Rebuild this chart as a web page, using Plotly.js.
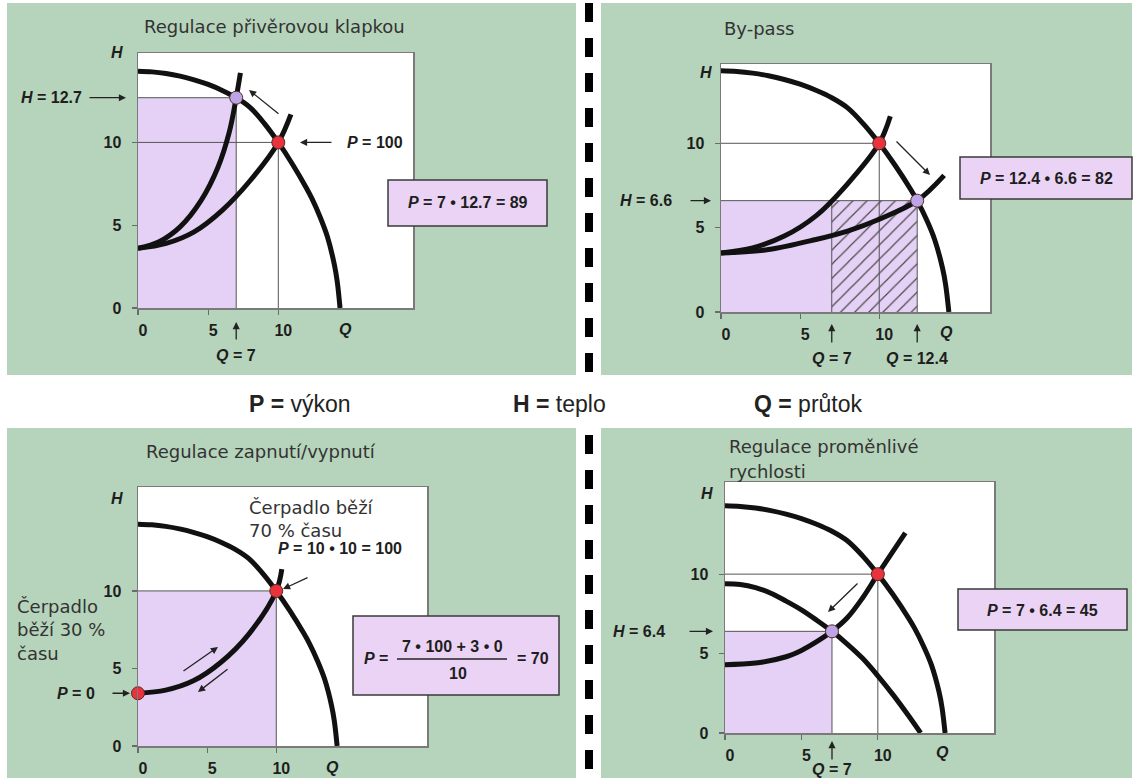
<!DOCTYPE html>
<html>
<head>
<meta charset="utf-8">
<script src="https://cdn.plot.ly/plotly-3.0.1.min.js"></script>
<style>
  html, body { margin: 0; padding: 0; background: #ffffff; }
  #chart { width: 1137px; height: 778px; }
</style>
</head>
<body>
<div id="chart"></div>
<script>
// ---------- data (Q = průtok, H = teplo) ----------
// full-speed pump characteristic, the same pump in all four diagrams
const pumpQ = [0, 1, 2, 3, 4, 5, 6, 7, 8, 9, 10, 11, 12, 12.4, 13, 13.5, 14, 14.2, 14.4];
const pumpH = [14.3, 14.26, 14.16, 14.0, 13.78, 13.5, 13.14, 12.7, 12.1, 11.15, 10.0, 8.7, 7.25, 6.6, 5.45, 4.3, 2.6, 1.6, 0];

// 1) throttling valve
const valveSysQ = [0, 2, 4, 6, 8, 10, 10.9];
const valveSysH = [3.6, 3.9, 4.6, 5.9, 7.7, 10.0, 11.7];
const valveThrQ = [0, 1.5, 3, 4.5, 5.7, 6.5, 7, 7.3];
const valveThrH = [3.6, 4.0, 4.9, 6.5, 8.5, 10.6, 12.7, 14.2];
const valveDesign = [10, 10];
const valvePoint = [7, 12.7];

// 2) by-pass
const bypassSysQ = [0, 2, 4, 6, 8, 10, 10.7];
const bypassSysH = [3.5, 3.8, 4.5, 5.7, 7.6, 10.0, 11.6];
const bypassOpenQ = [0, 3, 6, 8, 10, 12.4, 14.1];
const bypassOpenH = [3.5, 3.7, 4.3, 4.8, 5.5, 6.6, 8.1];
const bypassDesign = [10, 10];
const bypassPoint = [12.4, 6.6];
const bypassUsedQ = 7;

// 3) on/off
const onoffSysQ = [0, 2, 4, 6, 8, 10, 10.4];
const onoffSysH = [3.4, 3.6, 4.2, 5.4, 7.2, 10.0, 11.4];
const onoffRun = [10, 10];
const onoffIdle = [0, 3.4];
const runTenths = 7, idleTenths = 3;
const idlePower = 0;

// 4) variable speed
const speedSysQ = [0, 2, 4, 5, 6, 7, 8, 9, 10, 11.8];
const speedSysH = [4.3, 4.4, 4.8, 5.2, 5.75, 6.4, 7.25, 8.5, 10.0, 12.6];
const slowPumpQ = [0, 1, 2, 3, 4, 5, 6, 7, 8, 9, 10, 11, 12, 12.8];
const slowPumpH = [9.4, 9.35, 9.15, 8.8, 8.3, 7.75, 7.1, 6.4, 5.6, 4.7, 3.6, 2.4, 1.1, 0];
const speedDesign = [10, 10];
const speedPoint = [7, 6.4];

const tickVals = [0, 5, 10];

// ---------- styling ----------
const W = 1137, HGT = 778;
const PX = v => v / W;
const PY = v => 1 - v / HGT;
const GREEN = '#b6d4bb';
const LILAC = '#e4d1f5';
const BOXFILL = '#ebd3f5';
const RED = '#e8323c';
const VIOLET = '#bca5e6';
const INK = '#111111';
const SANS = '"Liberation Sans", Arial, sans-serif';
const BOLD = { family: SANS, size: 16, color: '#1e1e1e', weight: 'bold' };
const BOLDIT = Object.assign({}, BOLD, { style: 'italic' });
const TITLE = { family: '"DejaVu Sans", sans-serif', size: 18, color: '#333333' };
const NOTE = { family: '"DejaVu Sans", sans-serif', size: 18, color: '#333333' };
const KEY = { family: SANS, size: 23, color: '#222222' };
const NB = '\u00a0';

const fmt = v => String(v);
const power = (q, h) => Math.round(q * h);

// ---------- trace helpers ----------
function curve(qs, hs, n) {
  return { x: qs, y: hs, xaxis: 'x' + n, yaxis: 'y' + n, mode: 'lines',
           line: { color: INK, width: 5, shape: 'spline', smoothing: 1 }, hoverinfo: 'skip' };
}
function area(q0, q1, h, n, extra) {
  return Object.assign({ x: [q0, q1, q1, q0, q0], y: [0, 0, h, h, 0], xaxis: 'x' + n, yaxis: 'y' + n,
           mode: 'lines', fill: 'toself', fillcolor: LILAC, line: { width: 0 }, hoverinfo: 'skip' }, extra || {});
}
function guide(q, h, n) {
  return { x: [0, q, q], y: [h, h, 0], xaxis: 'x' + n, yaxis: 'y' + n, mode: 'lines',
           line: { color: '#555555', width: 1 }, hoverinfo: 'skip' };
}
function dot(pt, color, n) {
  return { x: [pt[0]], y: [pt[1]], xaxis: 'x' + n, yaxis: 'y' + n, mode: 'markers', cliponaxis: false,
           marker: { size: 13, color: color, line: { color: '#5a2a2a', width: 1 } }, hoverinfo: 'skip' };
}

const traces = [
  // 1) throttling valve
  area(0, valvePoint[0], valvePoint[1], ''),
  guide(valveDesign[0], valveDesign[1], ''),
  guide(valvePoint[0], valvePoint[1], ''),
  curve(pumpQ, pumpH, ''),
  curve(valveSysQ, valveSysH, ''),
  curve(valveThrQ, valveThrH, ''),
  dot(valveDesign, RED, ''),
  dot(valvePoint, VIOLET, ''),

  // 2) by-pass
  area(0, bypassPoint[0], bypassPoint[1], '2'),
  area(bypassUsedQ, bypassPoint[0], bypassPoint[1], '2', {
    fillcolor: 'rgba(0,0,0,0)',
    fillpattern: { shape: '/', fgcolor: '#4a4a4a', bgcolor: 'rgba(0,0,0,0)', size: 10, solidity: 0.12 }
  }),
  guide(bypassDesign[0], bypassDesign[1], '2'),
  guide(bypassPoint[0], bypassPoint[1], '2'),
  { x: [bypassUsedQ, bypassUsedQ], y: [0, bypassPoint[1]], xaxis: 'x2', yaxis: 'y2', mode: 'lines',
    line: { color: '#555555', width: 1 }, hoverinfo: 'skip' },
  curve(pumpQ, pumpH, '2'),
  curve(bypassSysQ, bypassSysH, '2'),
  curve(bypassOpenQ, bypassOpenH, '2'),
  dot(bypassDesign, RED, '2'),
  dot(bypassPoint, VIOLET, '2'),

  // 3) on/off
  area(0, onoffRun[0], onoffRun[1], '3'),
  guide(onoffRun[0], onoffRun[1], '3'),
  curve(pumpQ, pumpH, '3'),
  curve(onoffSysQ, onoffSysH, '3'),
  dot(onoffRun, RED, '3'),
  dot(onoffIdle, RED, '3'),

  // 4) variable speed
  area(0, speedPoint[0], speedPoint[1], '4'),
  guide(speedDesign[0], speedDesign[1], '4'),
  guide(speedPoint[0], speedPoint[1], '4'),
  curve(pumpQ, pumpH, '4'),
  curve(slowPumpQ, slowPumpH, '4'),
  curve(speedSysQ, speedSysH, '4'),
  dot(speedDesign, RED, '4'),
  dot(speedPoint, VIOLET, '4'),
];

// ---------- axes ----------
function axis(dom, range, anchor, isX) {
  return {
    domain: dom, range: range, anchor: anchor, fixedrange: true,
    showgrid: false, zeroline: false, showline: true, mirror: true,
    linecolor: '#7a7a7a', linewidth: 1.5,
    ticks: 'outside', ticklen: 5, tickwidth: 1.2, tickcolor: '#6a6a6a',
    tickmode: 'array', tickvals: tickVals, ticktext: tickVals.map(fmt),
    tickfont: BOLD, ticklabelstandoff: isX ? 2 : 7, ticklabelshift: isX ? 5 : 0
  };
}
// plot boxes in pixels: [left, top, right, bottom]
const box1 = [138, 53, 413, 308];
const box2 = [721, 64, 990, 312];
const box3 = [138, 487, 427, 746];
const box4 = [725, 482, 994, 733];
const xd = b => [PX(b[0]), PX(b[2])];
const yd = b => [PY(b[3]), PY(b[1])];

// ---------- annotation helpers ----------
function txt(text, x, y, o) {
  return Object.assign({ text: text, xref: 'paper', yref: 'paper', x: PX(x), y: PY(y),
    showarrow: false, xanchor: 'center', yanchor: 'middle', font: BOLD }, o || {});
}
const ARROW = { showarrow: true, arrowhead: 2, arrowsize: 1.1, arrowwidth: 1.3, arrowcolor: '#222222', standoff: 0, text: '' };
function arrowPx(tx, ty, hx, hy) {
  return Object.assign({ xref: 'paper', yref: 'paper', x: PX(hx), y: PY(hy), ax: tx - hx, ay: ty - hy }, ARROW);
}
// horizontal arrow at a data height
function arrowH(tx, hx, yref, h) {
  return Object.assign({ xref: 'paper', yref: yref, x: PX(hx), y: h, ax: tx - hx, ay: 0 }, ARROW);
}
// vertical arrow pointing up at a data flow
function arrowV(xref, q, ty, hy) {
  return Object.assign({ xref: xref, yref: 'paper', x: q, y: PY(hy), ax: 0, ay: ty - hy }, ARROW);
}
const eqH = v => '<i>H</i> = ' + fmt(v);
const eqQ = v => '<i>Q</i> = ' + fmt(v);
const eqP = (q, h) => '<i>P</i> = ' + fmt(q) + ' • ' + fmt(h) + ' = ' + power(q, h);

const annotations = [
  // panel titles
  txt('Regulace přivěrovou klapkou', 142, 27, { xanchor: 'left', font: TITLE }),
  txt('By-pass', 722, 28, { xanchor: 'left', font: TITLE }),
  txt('Regulace zapnutí/vypnutí', 144, 451, { xanchor: 'left', font: TITLE }),
  txt('Regulace proměnlivé', 727, 447, { xanchor: 'left', font: TITLE }),
  txt('rychlosti', 727, 471, { xanchor: 'left', font: TITLE }),

  // axis letters
  txt('H', 117, 53, { font: BOLDIT }), txt('Q', 345, 329, { font: BOLDIT }),
  txt('H', 706, 73, { font: BOLDIT }), txt('Q', 946, 332, { font: BOLDIT }),
  txt('H', 117, 498, { font: BOLDIT }), txt('Q', 332, 767, { font: BOLDIT }),
  txt('H', 707, 493, { font: BOLDIT }), txt('Q', 942, 752, { font: BOLDIT }),

  // 1) throttling valve
  txt(eqH(valvePoint[1]), 51, 0, { yref: 'y', y: valvePoint[1] }),
  arrowH(88, 126, 'y', valvePoint[1]),
  txt('<i>P</i> = ' + power(valveDesign[0], valveDesign[1]), 375, 0, { yref: 'y', y: valveDesign[1] }),
  arrowH(333, 300, 'y', valveDesign[1]),
  arrowPx(280, 115, 249, 90),
  txt(eqQ(valvePoint[0]), 0, 355, { xref: 'x', x: valvePoint[0] }),
  arrowV('x', valvePoint[0], 341, 322),
  txt(eqP(valvePoint[0], valvePoint[1]), 467.5, 203),

  // 2) by-pass
  txt(eqH(bypassPoint[1]), 646, 0, { yref: 'y2', y: bypassPoint[1] }),
  arrowH(689, 711, 'y2', bypassPoint[1]),
  arrowPx(895, 140, 930, 175),
  txt(eqQ(bypassUsedQ), 0, 359, { xref: 'x2', x: bypassUsedQ }),
  arrowV('x2', bypassUsedQ, 344, 324),
  txt(eqQ(bypassPoint[0]), 0, 359, { xref: 'x2', x: bypassPoint[0] }),
  arrowV('x2', bypassPoint[0], 344, 324),
  txt(eqP(bypassPoint[0], bypassPoint[1]), 1046, 178),

  // 3) on/off
  txt('Čerpadlo', 15, 606, { xanchor: 'left', font: NOTE }),
  txt('běží ' + idleTenths * 10 + ' %', 15, 629, { xanchor: 'left', font: NOTE }),
  txt('času', 15, 653, { xanchor: 'left', font: NOTE }),
  txt('Čerpadlo běží', 247, 507, { xanchor: 'left', font: NOTE }),
  txt(runTenths * 10 + ' % času', 247, 530, { xanchor: 'left', font: NOTE }),
  txt(eqP(onoffRun[0], onoffRun[1]), 340, 548),
  arrowPx(309, 577, 283, 589),
  arrowPx(182, 672, 218, 647),
  arrowPx(229, 668, 198, 692),
  txt('<i>P</i> = ' + idlePower, 76, 0, { yref: 'y3', y: onoffIdle[1] }),
  arrowH(111, 130, 'y3', onoffIdle[1]),
  txt('<i>P</i> =', 376, 658),
  txt(runTenths + ' • ' + power(onoffRun[0], onoffRun[1]) + ' + ' + idleTenths + ' • ' + idlePower, 452, 646),
  txt(String(runTenths + idleTenths), 458, 673),
  txt('= ' + Math.round((runTenths * power(onoffRun[0], onoffRun[1]) + idleTenths * idlePower) / (runTenths + idleTenths)), 533, 658),

  // 4) variable speed
  txt(eqH(speedPoint[1]), 639, 0, { yref: 'y4', y: speedPoint[1] }),
  arrowH(688, 713, 'y4', speedPoint[1]),
  arrowPx(859, 582, 828, 612),
  txt(eqQ(speedPoint[0]), 0, 769, { xref: 'x4', x: speedPoint[0] }),
  arrowV('x4', speedPoint[0], 761, 741),
  txt(eqP(speedPoint[0], speedPoint[1]), 1042, 610),

  // legend strip
  txt('<b>P' + NB + '=</b>' + NB + 'výkon', 247, 404, { xanchor: 'left', font: KEY }),
  txt('<b>H' + NB + '=</b>' + NB + 'teplo', 511, 404, { xanchor: 'left', font: KEY }),
  txt('<b>Q' + NB + '=</b>' + NB + 'průtok', 752, 404, { xanchor: 'left', font: KEY }),
];

// ---------- shapes ----------
function rectPx(x0, y0, x1, y1, fill, line, layer) {
  return { type: 'rect', xref: 'paper', yref: 'paper', x0: PX(x0), x1: PX(x1), y0: PY(y1), y1: PY(y0),
    fillcolor: fill, line: line || { width: 0 }, layer: layer || 'below' };
}
const boxLine = { color: '#3a3a3a', width: 1.5 };
const shapes = [
  rectPx(7, 3, 576, 375, GREEN),
  rectPx(601, 3, 1132, 375, GREEN),
  rectPx(7, 428, 576, 778, GREEN),
  rectPx(601, 428, 1132, 778, GREEN),
  rectPx(box1[0], box1[1], box1[2], box1[3], '#ffffff'),
  rectPx(box2[0], box2[1], box2[2], box2[3], '#ffffff'),
  rectPx(box3[0], box3[1], box3[2], box3[3], '#ffffff'),
  rectPx(box4[0], box4[1], box4[2], box4[3], '#ffffff'),
  // dashed divider
  { type: 'line', xref: 'paper', yref: 'paper', x0: PX(589), x1: PX(589), y0: PY(3), y1: PY(372),
    line: { color: '#000000', width: 8, dash: '19px,16px' }, layer: 'below' },
  { type: 'line', xref: 'paper', yref: 'paper', x0: PX(589), x1: PX(589), y0: PY(435), y1: PY(778),
    line: { color: '#000000', width: 8, dash: '19px,16px' }, layer: 'below' },
  // result boxes
  rectPx(388, 180, 547, 226, BOXFILL, boxLine, 'above'),
  rectPx(960, 157, 1132, 199, BOXFILL, boxLine, 'above'),
  rectPx(353, 616, 559, 695, BOXFILL, boxLine, 'above'),
  rectPx(958, 589, 1127, 630, BOXFILL, boxLine, 'above'),
  // fraction bar
  { type: 'line', xref: 'paper', yref: 'paper', x0: PX(397), x1: PX(507), y0: PY(659), y1: PY(659),
    line: { color: '#222222', width: 1.5 }, layer: 'above' },
];

const layout = {
  width: W, height: HGT, autosize: false,
  margin: { l: 0, r: 0, t: 0, b: 0, pad: 0 },
  paper_bgcolor: '#ffffff', plot_bgcolor: 'rgba(0,0,0,0)',
  showlegend: false,
  xaxis: axis(xd(box1), [0, 19.6], 'y', true),
  yaxis: axis(yd(box1), [0, 15.4], 'x', false),
  xaxis2: axis(xd(box2), [0, 17.0], 'y2', true),
  yaxis2: axis(yd(box2), [0, 14.7], 'x2', false),
  xaxis3: axis(xd(box3), [0, 20.9], 'y3', true),
  yaxis3: axis(yd(box3), [0, 16.7], 'x3', false),
  xaxis4: axis(xd(box4), [0, 17.6], 'y4', true),
  yaxis4: axis(yd(box4), [0, 15.8], 'x4', false),
  shapes: shapes,
  annotations: annotations
};

Plotly.newPlot('chart', traces, layout, { displayModeBar: false, staticPlot: true });
</script>
</body>
</html>
